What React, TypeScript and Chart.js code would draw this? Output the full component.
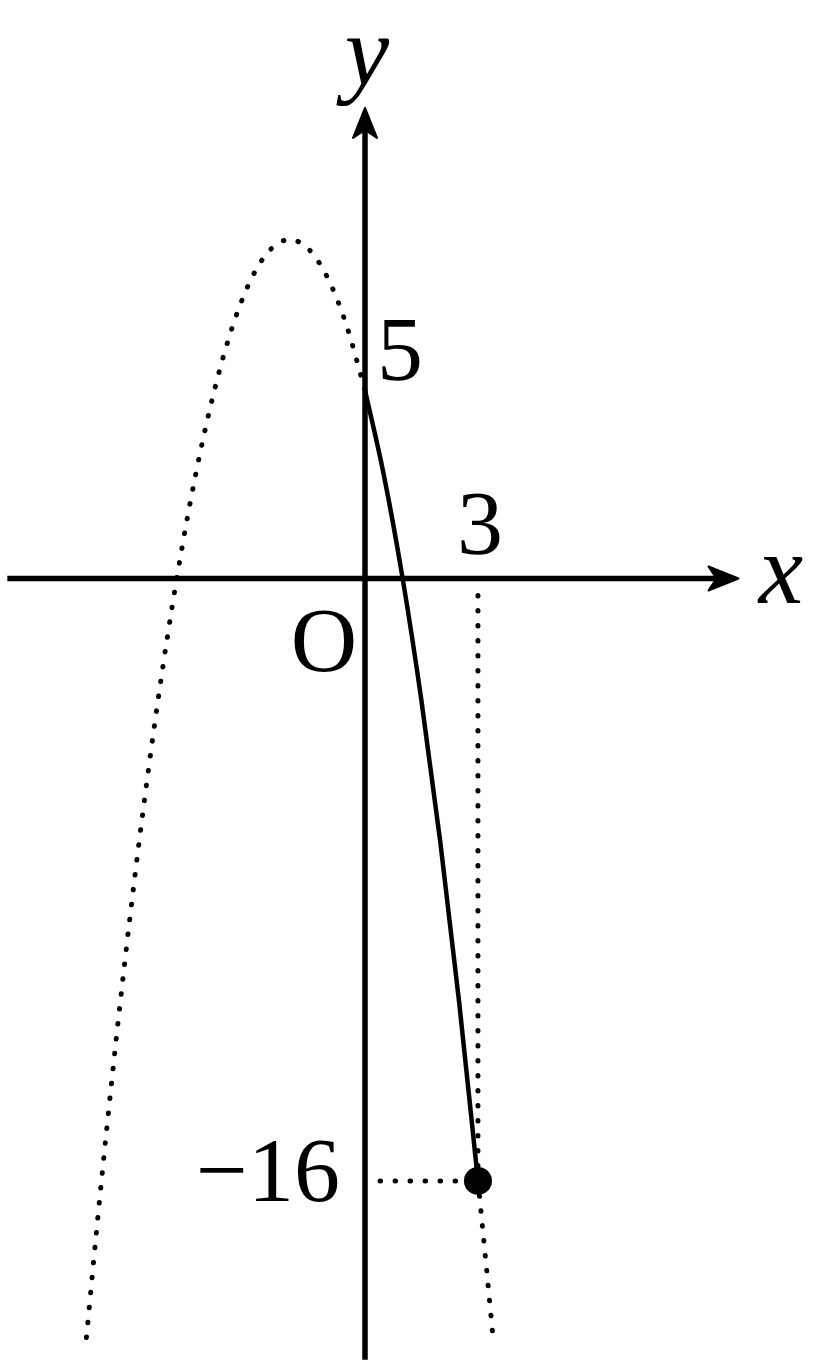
import { useEffect, useRef } from "react";
import { Chart, registerables, Plugin } from "chart.js";

Chart.register(...registerables);

// y = -x^2 - 4x + 5
const leftX = [-7.4, -7, -6.5, -6, -5.5, -5, -4.5, -4, -3.5, -3, -2.5, -2, -1.5, -1, -0.5, 0];
const leftY = [-20.16, -16, -11.25, -7, -3.25, 0, 2.75, 5, 6.75, 8, 8.75, 9, 8.75, 8, 6.75, 5];
const solidX = [0, 0.5, 1, 1.5, 2, 2.5, 3];
const solidY = [5, 2.75, 0, -3.25, -7, -11.25, -16];
const rightX = [3, 3.2, 3.4];
const rightY = [-16, -18.04, -20.16];

const guideVX = [3, 3];
const guideVY = [-0.45, -16];
const guideHX = [0.4, 3];
const guideHY = [-16, -16];

const markX = [3];
const markY = [-16];

const tickText = ["5", "3", "\u221216"];
const tickAt = [
  { x: 0, y: 5 },
  { x: 3, y: 0 },
  { x: 0, y: -16 },
];

const toPts = (xs: number[], ys: number[]) => xs.map((x, i) => ({ x, y: ys[i] }));

const PX = 37.65;

const axesPlugin: Plugin = {
  id: "axes",
  beforeDatasetsDraw(chart) {
    const { ctx } = chart;
    const sx = chart.scales.x;
    const sy = chart.scales.y;
    const x0 = sx.getPixelForValue(0);
    const y0 = sy.getPixelForValue(0);
    ctx.save();
    ctx.strokeStyle = "#000";
    ctx.fillStyle = "#000";
    ctx.lineWidth = 5.5;
    // x axis
    const xl = sx.getPixelForValue(-9.5);
    const xr = sx.getPixelForValue(9.92);
    ctx.beginPath();
    ctx.moveTo(xl, y0);
    ctx.lineTo(xr - 10, y0);
    ctx.stroke();
    // y axis
    const yb = sy.getPixelForValue(-20.75);
    const yt = sy.getPixelForValue(12.5);
    ctx.beginPath();
    ctx.moveTo(x0, yb);
    ctx.lineTo(x0, yt + 10);
    ctx.stroke();
    // arrow heads
    ctx.lineJoin = "round";
    ctx.lineWidth = 2;
    ctx.beginPath();
    ctx.moveTo(xr, y0);
    ctx.lineTo(xr - 30, y0 - 12);
    ctx.lineTo(xr - 22, y0);
    ctx.lineTo(xr - 30, y0 + 12);
    ctx.closePath();
    ctx.fill();
    ctx.stroke();
    ctx.beginPath();
    ctx.moveTo(x0, yt);
    ctx.lineTo(x0 - 12, yt + 30);
    ctx.lineTo(x0, yt + 22);
    ctx.lineTo(x0 + 12, yt + 30);
    ctx.closePath();
    ctx.fill();
    ctx.stroke();
    ctx.restore();
  },
  afterDraw(chart) {
    const { ctx } = chart;
    const sx = chart.scales.x;
    const sy = chart.scales.y;
    const px = (v: number) => sx.getPixelForValue(v);
    const py = (v: number) => sy.getPixelForValue(v);
    ctx.save();
    ctx.fillStyle = "#000";
    ctx.textBaseline = "alphabetic";
    ctx.font = '92px "Liberation Serif", "Times New Roman", serif';
    // 5
    ctx.textAlign = "center";
    ctx.fillText(tickText[0], px(tickAt[0].x) + 35, py(tickAt[0].y) - 10);
    // 3
    ctx.fillText(tickText[1], px(tickAt[1].x) + 2, py(tickAt[1].y) - 25);
    // -16
    ctx.textAlign = "right";
    ctx.fillText(tickText[2], px(tickAt[2].x) - 25, py(tickAt[2].y) + 20);
    // O
    ctx.textAlign = "center";
    ctx.fillText("O", px(0) - 41, py(0) + 92);
    // axis names
    ctx.font = 'italic 100px "Liberation Serif", "Times New Roman", serif';
    ctx.fillText("x", px(0) + 416, py(0) + 24);
    ctx.fillText("y", px(0) + 2, py(0) - 494);
    ctx.restore();
  },
};

export default function App() {
  const chartRef = useRef<HTMLCanvasElement>(null);

  useEffect(() => {
    document.body.style.margin = "0";
    let chartInstance: Chart | undefined;
    if (chartRef.current) {
      const dotted = {
        borderColor: "#000",
        borderWidth: 5,
        borderDash: [0.5, 14.5],
        borderCapStyle: "round" as const,
        pointRadius: 0,
        fill: false,
        showLine: true,
      };
      chartInstance = new Chart(chartRef.current, {
        type: "line",
        data: {
          datasets: [
            { ...dotted, data: toPts(leftX, leftY), cubicInterpolationMode: "monotone" },
            { ...dotted, data: toPts(rightX, rightY), cubicInterpolationMode: "monotone" },
            { ...dotted, data: toPts(guideVX, guideVY) },
            { ...dotted, data: toPts(guideHX, guideHY) },
            {
              data: toPts(solidX, solidY),
              borderColor: "#000",
              borderWidth: 4.5,
              pointRadius: 0,
              fill: false,
              cubicInterpolationMode: "monotone",
            },
            {
              data: toPts(markX, markY),
              showLine: false,
              pointRadius: 14,
              pointBackgroundColor: "#000",
              pointBorderColor: "#000",
              pointBorderWidth: 0,
            },
          ],
        },
        options: {
          responsive: false,
          animation: false,
          devicePixelRatio: 1,
          layout: { padding: 0, autoPadding: false },
          scales: {
            x: { type: "linear", display: false, min: -365 / PX, max: (815 - 365) / PX },
            y: { type: "linear", display: false, min: -(1370 - 578.5) / PX, max: 578.5 / PX },
          },
          plugins: {
            legend: { display: false },
            tooltip: { enabled: false },
          },
        },
        plugins: [axesPlugin],
      });
    }
    return () => {
      if (chartInstance) {
        chartInstance.destroy();
      }
    };
  }, []);

  return (
    <div style={{ width: 815, height: 1370, background: "#fff" }}>
      <canvas ref={chartRef} width={815} height={1370}></canvas>
    </div>
  );
}
